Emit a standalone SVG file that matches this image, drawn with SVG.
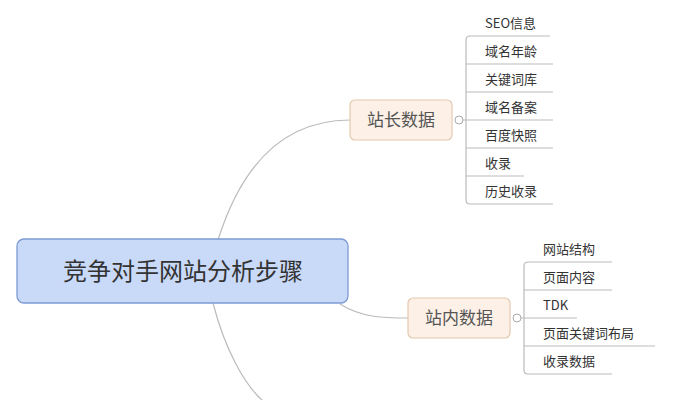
<svg xmlns="http://www.w3.org/2000/svg" width="676" height="400" viewBox="0 0 676 400">
<style>
text{font-family:"Noto Sans CJK SC","Liberation Sans",sans-serif;fill:#333}
.leaf{font-size:13px}
.ln{fill:none;stroke:#bbb;stroke-width:1.2}
.sub{fill:#fdf1e7;stroke:#e3c8ae;stroke-width:1.2}
.subt{font-size:17px;fill:#555;text-anchor:middle}
.knob{fill:#fff;stroke:#aaa;stroke-width:1}
</style>
<rect width="676" height="400" fill="#fff"/>
<g id="connectors">
<path class="ln" d="M218,240 C240,170 280,120 350,120"/>
<path class="ln" d="M340,304 C362,318 385,318 408,318"/>
<path class="ln" d="M213,303 C225,350 245,385 262,400"/>
<path class="ln" d="M463,120 H466 M466,40 Q466,36 470,36 H550 M466,40 V200 Q466,204 470,204 H553 M466,64 H553 M466,92 H553 M466,120 H553 M466,148 H553 M466,176 H524"/>
<path class="ln" d="M521,318 H524 M524,266 Q524,262 528,262 H612 M524,266 V370 Q524,374 528,374 H612 M524,290 H612 M524,318 H577 M524,346 H655"/>
</g>
<g id="main">
<rect x="17" y="239" width="331" height="64" rx="7" fill="#c9daf8" stroke="#7c9bd3" stroke-width="1.3"/>
<text x="183" y="280" font-size="24" text-anchor="middle" fill="#333">竞争对手网站分析步骤</text>
</g>
<g id="zhanzhang">
<rect class="sub" x="350" y="100" width="102" height="40" rx="5"/>
<text class="subt" x="401" y="126">站长数据</text>
<circle class="knob" cx="459" cy="120" r="4"/>
</g>
<g id="zhannei">
<rect class="sub" x="408" y="298" width="102" height="40" rx="5"/>
<text class="subt" x="459" y="324">站内数据</text>
<circle class="knob" cx="517" cy="318" r="4"/>
</g>
<g id="leaves1" class="leaf">
<text class="leaf" x="485" y="28">SEO信息</text>
<text class="leaf" x="485" y="56">域名年龄</text>
<text class="leaf" x="485" y="84">关键词库</text>
<text class="leaf" x="485" y="112">域名备案</text>
<text class="leaf" x="485" y="140">百度快照</text>
<text class="leaf" x="485" y="168">收录</text>
<text class="leaf" x="485" y="196">历史收录</text>
</g>
<g id="leaves2">
<text class="leaf" x="543" y="254">网站结构</text>
<text class="leaf" x="543" y="282">页面内容</text>
<text class="leaf" x="543" y="310">TDK</text>
<text class="leaf" x="543" y="338">页面关键词布局</text>
<text class="leaf" x="543" y="366">收录数据</text>
</g>
</svg>
